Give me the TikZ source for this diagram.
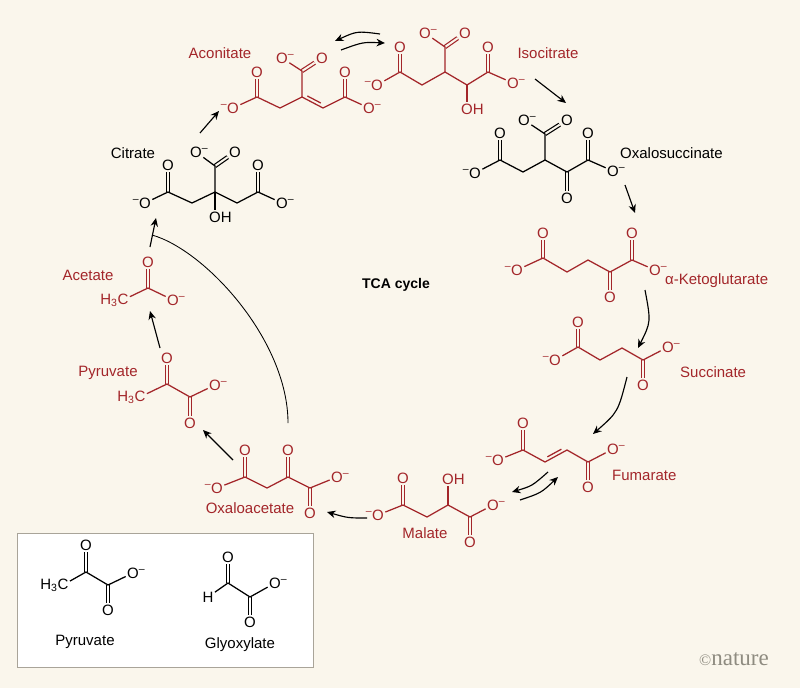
\documentclass[tikz,border=0pt]{standalone}
\usepackage{fontspec}
\setmainfont{Liberation Sans}
\newfontfamily\logofont{Liberation Serif}
\usetikzlibrary{calc,arrows.meta}
\definecolor{cream}{HTML}{FAF6EC}
\definecolor{tcared}{HTML}{A3262A}
\definecolor{boxgray}{HTML}{A9A499}
\definecolor{logogray}{HTML}{8E8B80}
\newcommand{\oxm}{O\rlap{\textsuperscript{\textendash}}}
\newcommand{\mox}{\llap{\textsuperscript{\textendash}}O}
\newcommand{\ohx}{O\rlap{H}}
\newcommand{\mex}{\llap{H\textsubscript{3}}C}
\tikzset{
	atom/.style={inner sep=1.3pt, font=\fontsize{15}{15}\selectfont},
	molname/.style={inner sep=0pt, font=\fontsize{15}{15}\selectfont},
	bond/.style={line width=0.44mm, line join=round},
	dbond/.style={line width=0.42mm, double=cream, double distance=2pt},
	rxn/.style={line width=0.4mm, -{Stealth[length=8.5pt,width=7.5pt]}},
}

\begin{document}
\begin{tikzpicture}[x=1pt, y=-1pt]
			%%%%% START %%%%%
			
			\useasboundingbox (0,0) rectangle (800,688);
			\fill[cream] (0,0) rectangle (800,688);
			
			\node[font=\bfseries\fontsize{14}{14}\selectfont] (tca) at (396,285) {TCA cycle};
			
			% citrate
			\node[atom] (ciO1) at (145,203) {\mox};
			\coordinate (ciC1) at (168,192);
			\node[atom] (ciO2) at (168,165) {O};
			\coordinate (ciC2) at (192,203);
			\coordinate (ciC3) at (215,192);
			\coordinate (ciC4) at (215,166);
			\node[atom] (ciO3) at (196,152) {\oxm};
			\node[atom] (ciO4) at (235,152) {O};
			\node[atom] (ciOH) at (215,217) {\ohx};
			\coordinate (ciC5) at (237,203);
			\coordinate (ciC6) at (258,192);
			\node[atom] (ciO5) at (258,165) {O};
			\node[atom] (ciO6) at (282,203) {\oxm};
			\draw[dbond] (ciC1) -- (ciO2);
			\draw[dbond] (ciC4) -- (ciO4);
			\draw[dbond] (ciC6) -- (ciO5);
			\draw[bond] (ciO1) -- (ciC1) -- (ciC2) -- (ciC3) -- (ciC5) -- (ciC6) -- (ciO6);
			\draw[bond] (ciC3) -- (ciC4) -- (ciO3);
			\draw[bond] (ciC3) -- (ciOH);
			\node[molname] (ciName) at (133,153) {Citrate};
			
			% oxalosuccinate
			\node[atom] (osO1) at (475,173) {\mox};
			\coordinate (osC1) at (500,160);
			\node[atom] (osO2) at (500,133) {O};
			\coordinate (osC2) at (523,172);
			\coordinate (osC3) at (545,160);
			\coordinate (osC4) at (545,134);
			\node[atom] (osO3) at (524,120) {\oxm};
			\node[atom] (osO4) at (567,120) {O};
			\coordinate (osC5) at (567,172);
			\node[atom] (osO5) at (567,198) {O};
			\coordinate (osC6) at (588,160);
			\node[atom] (osO6) at (588,133) {O};
			\node[atom] (osO7) at (613,171) {\oxm};
			\draw[dbond] (osC1) -- (osO2);
			\draw[dbond] (osC4) -- (osO4);
			\draw[dbond] (osC5) -- (osO5);
			\draw[dbond] (osC6) -- (osO6);
			\draw[bond] (osO1) -- (osC1) -- (osC2) -- (osC3) -- (osC5) -- (osC6) -- (osO7);
			\draw[bond] (osC3) -- (osC4) -- (osO3);
			\node[molname, anchor=west] (osName) at (620,153) {Oxalosuccinate};
			
			\begin{scope}[color=tcared]
			% aconitate
			\node[atom] (acO1) at (233,108) {\mox};
			\coordinate (acC1) at (257,97);
			\node[atom] (acO2) at (257,72) {O};
			\coordinate (acC2) at (280,108);
			\coordinate (acC3) at (302,97);
			\coordinate (acC4) at (302,71);
			\node[atom] (acO3) at (282,58) {\oxm};
			\node[atom] (acO4) at (322,58) {O};
			\coordinate (acC5) at (323,108);
			\coordinate (acC6) at (345,97);
			\node[atom] (acO5) at (345,72) {O};
			\node[atom] (acO6) at (369,108) {\oxm};
			\draw[dbond] (acC1) -- (acO2);
			\draw[dbond] (acC4) -- (acO4);
			\draw[dbond] (acC6) -- (acO5);
			\draw[bond] (acO1) -- (acC1) -- (acC2) -- (acC3) -- (acC5) -- (acC6) -- (acO6);
			\draw[bond] (acC3) -- (acC4) -- (acO3);
			\draw[bond] ($(acC3)!0.18!(acC5)!3.4pt!90:(acC5)$) -- ($(acC5)!0.18!(acC3)!3.4pt!-90:(acC3)$);
			\node[molname] (acName) at (220,53) {Aconitate};
			
			% isocitrate
			\node[atom] (isO1) at (377,85) {\mox};
			\coordinate (isC1) at (400,72);
			\node[atom] (isO2) at (400,47) {O};
			\coordinate (isC2) at (422,85);
			\coordinate (isC3) at (445,72);
			\coordinate (isC4) at (445,47);
			\node[atom] (isO3) at (425,33) {\oxm};
			\node[atom] (isO4) at (465,33) {O};
			\coordinate (isC5) at (467,85);
			\node[atom] (isOH) at (467,109) {\ohx};
			\coordinate (isC6) at (488,72);
			\node[atom] (isO5) at (488,47) {O};
			\node[atom] (isO6) at (513,83) {\oxm};
			\draw[dbond] (isC1) -- (isO2);
			\draw[dbond] (isC4) -- (isO4);
			\draw[dbond] (isC6) -- (isO5);
			\draw[bond] (isO1) -- (isC1) -- (isC2) -- (isC3) -- (isC5) -- (isC6) -- (isO6);
			\draw[bond] (isC3) -- (isC4) -- (isO3);
			\draw[bond] (isC5) -- (isOH);
			\node[molname] (isName) at (548,53) {Isocitrate};
			
			% alpha-ketoglutarate
			\node[atom] (kgO1) at (517,270) {\mox};
			\coordinate (kgC1) at (543,258);
			\node[atom] (kgO2) at (543,233) {O};
			\coordinate (kgC2) at (567,272);
			\coordinate (kgC3) at (588,260);
			\coordinate (kgC4) at (610,272);
			\node[atom] (kgO3) at (610,297) {O};
			\coordinate (kgC5) at (632,260);
			\node[atom] (kgO4) at (632,233) {O};
			\node[atom] (kgO5) at (655,270) {\oxm};
			\draw[dbond] (kgC1) -- (kgO2);
			\draw[dbond] (kgC4) -- (kgO3);
			\draw[dbond] (kgC5) -- (kgO4);
			\draw[bond] (kgO1) -- (kgC1) -- (kgC2) -- (kgC3) -- (kgC4) -- (kgC5) -- (kgO5);
			\node[molname, anchor=west] (kgName) at (665,281) {α-Ketoglutarate};
			
			% succinate
			\node[atom] (scO1) at (555,360) {\mox};
			\coordinate (scC1) at (578,347);
			\node[atom] (scO2) at (578,322) {O};
			\coordinate (scC2) at (600,360);
			\coordinate (scC3) at (622,348);
			\coordinate (scC4) at (643,360);
			\node[atom] (scO3) at (643,385) {O};
			\node[atom] (scO4) at (668,347) {\oxm};
			\draw[dbond] (scC1) -- (scO2);
			\draw[dbond] (scC4) -- (scO3);
			\draw[bond] (scO1) -- (scC1) -- (scC2) -- (scC3) -- (scC4) -- (scO4);
			\node[molname, anchor=west] (scName) at (680,372) {Succinate};
			
			% fumarate
			\node[atom] (fuO1) at (498,460) {\mox};
			\coordinate (fuC1) at (523,450);
			\node[atom] (fuO2) at (523,423) {O};
			\coordinate (fuC2) at (545,462);
			\coordinate (fuC3) at (567,450);
			\coordinate (fuC4) at (588,462);
			\node[atom] (fuO3) at (588,487) {O};
			\node[atom] (fuO4) at (613,449) {\oxm};
			\draw[dbond] (fuC1) -- (fuO2);
			\draw[dbond] (fuC4) -- (fuO3);
			\draw[bond] (fuO1) -- (fuC1) -- (fuC2) -- (fuC3) -- (fuC4) -- (fuO4);
			\draw[bond] ($(fuC2)!0.18!(fuC3)!3.4pt!90:(fuC3)$) -- ($(fuC3)!0.18!(fuC2)!3.4pt!-90:(fuC2)$);
			\node[molname, anchor=west] (fuName) at (612,475) {Fumarate};
			
			% malate
			\node[atom] (maO1) at (378,515) {\mox};
			\coordinate (maC1) at (403,505);
			\node[atom] (maO2) at (403,478) {O};
			\coordinate (maC2) at (427,517);
			\coordinate (maC3) at (448,505);
			\node[atom] (maOH) at (448,479) {\ohx};
			\coordinate (maC4) at (470,517);
			\node[atom] (maO3) at (470,542) {O};
			\node[atom] (maO4) at (493,505) {\oxm};
			\draw[dbond] (maC1) -- (maO2);
			\draw[dbond] (maC4) -- (maO3);
			\draw[bond] (maO1) -- (maC1) -- (maC2) -- (maC3) -- (maC4) -- (maO4);
			\draw[bond] (maC3) -- (maOH);
			\node[molname] (maName) at (425,533) {Malate};
			
			% oxaloacetate
			\node[atom] (oaO1) at (217,488) {\mox};
			\coordinate (oaC1) at (245,477);
			\node[atom] (oaO2) at (245,450) {O};
			\coordinate (oaC2) at (267,488);
			\coordinate (oaC3) at (288,477);
			\node[atom] (oaO3) at (288,450) {O};
			\coordinate (oaC4) at (310,488);
			\node[atom] (oaO4) at (310,513) {O};
			\node[atom] (oaO5) at (337,477) {\oxm};
			\draw[dbond] (oaC1) -- (oaO2);
			\draw[dbond] (oaC3) -- (oaO3);
			\draw[dbond] (oaC4) -- (oaO4);
			\draw[bond] (oaO1) -- (oaC1) -- (oaC2) -- (oaC3) -- (oaC4) -- (oaO5);
			\node[molname] (oaName) at (250,508) {Oxaloacetate};
			
			% pyruvate
			\node[atom] (pyO1) at (167,358) {O};
			\coordinate (pyC1) at (167,384);
			\node[atom] (pyMe) at (140,397) {\mex};
			\coordinate (pyC2) at (190,397);
			\node[atom] (pyO2) at (190,423) {O};
			\node[atom] (pyO3) at (215,385) {\oxm};
			\draw[dbond] (pyC1) -- (pyO1);
			\draw[dbond] (pyC2) -- (pyO2);
			\draw[bond] (pyMe) -- (pyC1) -- (pyC2) -- (pyO3);
			\node[molname] (pyName) at (108,373) {Pyruvate};
			
			% acetate
			\node[atom] (atO1) at (148,262) {O};
			\coordinate (atC1) at (148,288);
			\node[atom] (atMe) at (123,300) {\mex};
			\node[atom] (atO2) at (173,300) {\oxm};
			\draw[dbond] (atC1) -- (atO1);
			\draw[bond] (atMe) -- (atC1) -- (atO2);
			\node[molname] (atName) at (88,275) {Acetate};
			\end{scope}
			
			% reactions
			\coordinate (r1a) at (200,133); \coordinate (r1b) at (219,111);
			\draw[rxn] (r1a) -- (r1b);
			\coordinate (r2a) at (380,34); \coordinate (r2b) at (335,41);
			\draw[rxn] (r2a) .. controls (357,31) .. (r2b);
			\coordinate (r3a) at (341,50); \coordinate (r3b) at (385,43);
			\draw[rxn] (r3a) .. controls (363,42) .. (r3b);
			\coordinate (r4a) at (535,79); \coordinate (r4b) at (566,103);
			\draw[rxn] (r4a) -- (r4b);
			\coordinate (r5a) at (625,185); \coordinate (r5b) at (635,213);
			\draw[rxn] (r5a) -- (r5b);
			\coordinate (r6a) at (645,290); \coordinate (r6b) at (638,348);
			\draw[rxn] (r6a) .. controls (651,322) .. (r6b);
			\coordinate (r7a) at (627,377); \coordinate (r7b) at (593,434);
			\draw[rxn] (r7a) .. controls (618,412) .. (r7b);
			\coordinate (r8a) at (548,472); \coordinate (r8b) at (512,492);
			\draw[rxn] (r8a) .. controls (532,486) .. (r8b);
			\coordinate (r9a) at (520,500); \coordinate (r9b) at (558,477);
			\draw[rxn] (r9a) .. controls (541,493) .. (r9b);
			\coordinate (r10a) at (367,518); \coordinate (r10b) at (327,512);
			\draw[rxn] (r10a) .. controls (348,518) .. (r10b);
			\coordinate (r11a) at (233,460); \coordinate (r11b) at (203,430);
			\draw[rxn] (r11a) -- (r11b);
			\coordinate (r12a) at (160,348); \coordinate (r12b) at (150,311);
			\draw[rxn] (r12a) -- (r12b);
			\coordinate (r13a) at (150,247); \coordinate (r13b) at (156,218);
			\draw[rxn] (r13a) -- (r13b);
			\coordinate (r14a) at (288,423); \coordinate (r14b) at (152,235);
			\draw[line width=0.3mm] (r14a) .. controls (288,340) and (205,250) .. (r14b);
			
			% legend box
			\draw[fill=white, draw=boxgray, line width=0.3mm] (17,533) rectangle (313,667);
			\begin{scope}[dbond/.append style={double=white}]
			\node[atom] (bpO1) at (86,545) {O};
			\coordinate (bpC1) at (86,572);
			\node[atom] (bpMe) at (63,585) {\mex};
			\coordinate (bpC2) at (108,585);
			\node[atom] (bpO2) at (108,610) {O};
			\node[atom] (bpO3) at (133,573) {\oxm};
			\draw[dbond] (bpC1) -- (bpO1);
			\draw[dbond] (bpC2) -- (bpO2);
			\draw[bond] (bpMe) -- (bpC1) -- (bpC2) -- (bpO3);
			\node[molname] (bpName) at (85,642) {Pyruvate};
			
			\node[atom] (glO1) at (228,557) {O};
			\coordinate (glC1) at (228,583);
			\node[atom] (glH) at (208,597) {H};
			\coordinate (glC2) at (250,597);
			\node[atom] (glO2) at (250,622) {O};
			\node[atom] (glO3) at (275,583) {\oxm};
			\draw[dbond] (glC1) -- (glO1);
			\draw[dbond] (glC2) -- (glO2);
			\draw[bond] (glH) -- (glC1) -- (glC2) -- (glO3);
			\node[molname] (glName) at (240,645) {Glyoxylate};
			\end{scope}
			
			\node[font=\logofont\fontsize{23}{23}\selectfont, text=logogray] (logo) at (734,659) {{\fontsize{16}{16}\selectfont\textcopyright}nature};
			
			%%%%% END %%%%%
		\end{tikzpicture}
\end{document}
